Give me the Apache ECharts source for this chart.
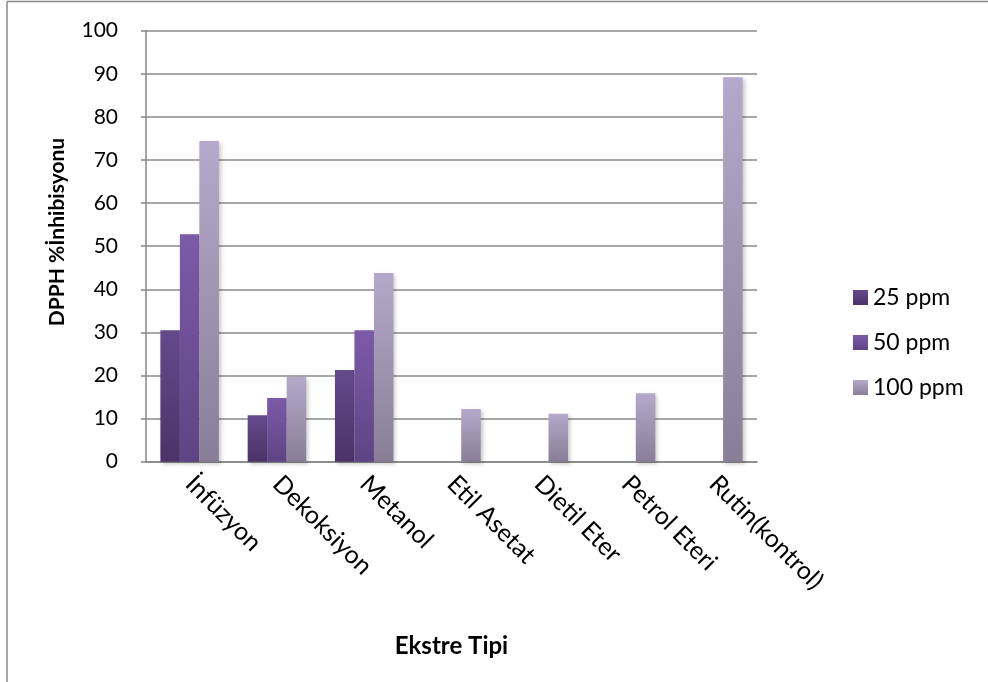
<!DOCTYPE html>
<html>
<head>
<meta charset="utf-8">
<script src="https://cdn.jsdelivr.net/npm/echarts@6/dist/echarts.min.js"></script>
<style>
  html, body { margin: 0; padding: 0; background: #fff; }
  #chart { width: 988px; height: 682px; }
</style>
</head>
<body>
<div id="chart"></div>
<script>
// Extract types on the category axis
const categories = ['İnfüzyon', 'Dekoksiyon', 'Metanol', 'Etil Asetat', 'Dietil Eter', 'Petrol Eteri', 'Rutin(kontrol)'];

// DPPH % inhibition per concentration
const ppm25 = [30.5, 10.8, 21.3, null, null, null, null];
const ppm50 = [52.8, 14.8, 30.5, null, null, null, null];
const ppm100 = [74.4, 19.7, 43.8, 12.2, 11.1, 15.9, 89.2];

const seriesNames = ['25 ppm', '50 ppm', '100 ppm'];
const yTicks = { min: 0, max: 100, interval: 10 };

const FONT = 'Lato, "Open Sans", sans-serif';

function grad(top, bottom) {
  return new echarts.graphic.LinearGradient(0, 0, 0, 1, [
    { offset: 0, color: top },
    { offset: 1, color: bottom }
  ]);
}

const fills = [
  grad('#654a8c', '#4c3268'),
  grad('#7d5aa8', '#5e4484'),
  grad('#b5a8ca', '#897e98')
];

function barSeries(name, data, fill) {
  return {
    name: name,
    type: 'bar',
    data: data,
    barGap: '0%',
    barCategoryGap: '33%',
    itemStyle: {
      color: fill,
      shadowBlur: 4,
      shadowColor: 'rgba(0,0,0,0.22)',
      shadowOffsetX: 2,
      shadowOffsetY: 2
    }
  };
}

const chart = echarts.init(document.getElementById('chart'), null, { renderer: 'canvas' });

chart.setOption({
  animation: false,
  backgroundColor: '#ffffff',
  textStyle: { fontFamily: FONT },
  grid: { left: 146, top: 30.7, right: 231, bottom: 220.3, containLabel: false },
  legend: {
    orient: 'vertical',
    left: 848,
    top: 281,
    itemWidth: 15,
    itemHeight: 15,
    itemGap: 22,
    icon: 'rect',
    data: seriesNames,
    textStyle: { fontFamily: FONT, fontSize: 23, color: '#000', padding: [0, 0, 0, 0] }
  },
  xAxis: {
    type: 'category',
    data: categories,
    axisLine: { show: true, lineStyle: { color: '#868686', width: 1.5 } },
    axisTick: { show: false },
    axisLabel: {
      rotate: -45,
      interval: 0,
      margin: 18,
      fontSize: 25,
      color: '#000',
      fontFamily: FONT
    },
    name: 'Ekstre Tipi',
    nameLocation: 'middle',
    nameGap: 173,
    nameTextStyle: { fontFamily: FONT, fontSize: 24, fontWeight: 'bold', color: '#000' }
  },
  yAxis: {
    type: 'value',
    min: yTicks.min,
    max: yTicks.max,
    interval: yTicks.interval,
    axisLine: { show: true, lineStyle: { color: '#868686', width: 1.5 } },
    axisTick: { show: true, inside: false, length: 5, lineStyle: { color: '#868686', width: 1.5 } },
    axisLabel: { fontSize: 21, color: '#000', margin: 28, fontFamily: FONT },
    splitLine: { show: true, lineStyle: { color: '#8a8a8a', width: 1.5 } }
  },
  series: [
    barSeries(seriesNames[0], ppm25, fills[0]),
    barSeries(seriesNames[1], ppm50, fills[1]),
    barSeries(seriesNames[2], ppm100, fills[2])
  ],
  graphic: [
    {
      type: 'text',
      x: 57,
      y: 232,
      rotation: Math.PI / 2,
      style: {
        text: 'DPPH %İnhibisyonu',
        fontFamily: FONT,
        fontSize: 21,
        fontWeight: 'bold',
        fill: '#000',
        align: 'center',
        verticalAlign: 'middle'
      }
    },
    // chart frame
    { type: 'line', shape: { x1: 7, y1: 1.5, x2: 988, y2: 1.5 }, style: { stroke: '#8a8a8a', lineWidth: 1.5 } },
    { type: 'line', shape: { x1: 7, y1: 1.5, x2: 7, y2: 682 }, style: { stroke: '#8a8a8a', lineWidth: 1.5 } }
  ]
});
</script>
</body>
</html>
